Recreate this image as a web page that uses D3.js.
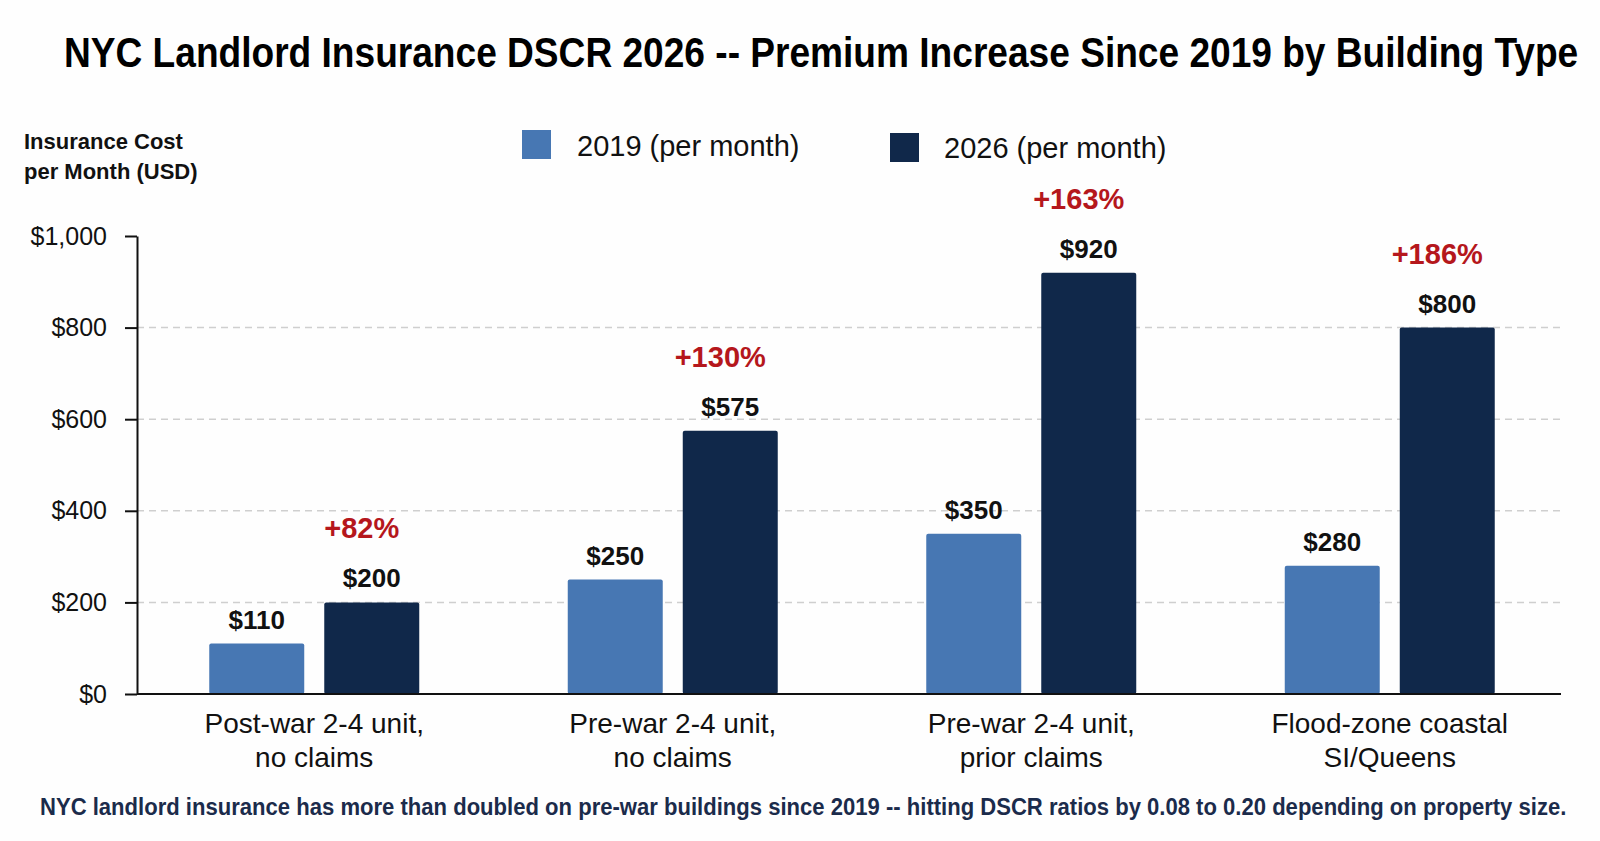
<!DOCTYPE html>
<html lang="en">
    <head>
        <meta charset="utf-8">
        <title>NYC Landlord Insurance DSCR 2026</title>

        <script src="https://d3js.org/d3.v7.min.js"></script>

        <style type="text/css">
            body {
                margin: 0;
                background: #fefefe;
            }
            svg text {
                font-family: "Liberation Sans", Arial, sans-serif;
            }
            .val {
                font-size: 26px;
                font-weight: bold;
                fill: #111;
            }
            .pct {
                font-size: 29px;
                font-weight: bold;
                fill: #b5171c;
            }
        </style>
    </head>
    <body>
        <script type="text/javascript">

            //Data
            const categories = [
                ["Post-war 2-4 unit,", "no claims"],
                ["Pre-war 2-4 unit,", "no claims"],
                ["Pre-war 2-4 unit,", "prior claims"],
                ["Flood-zone coastal", "SI/Queens"]
            ];
            const series = ["2019 (per month)", "2026 (per month)"];
            const values2019 = [110, 250, 350, 280];
            const values2026 = [200, 575, 920, 800];
            const yTicks = [0, 200, 400, 600, 800, 1000];

            //declare consts
            const w = 1600;
            const h = 841;
            const plotLeft = 137, plotRight = 1561;
            const plotTop = 236, plotBottom = 694;
            const colors = ["#4777b3", "#10284a"];

            const svg = d3.select("body")
                    .append("svg")
                    .attr("width", w)
                    .attr("height", h);

            //squeeze a text horizontally so it fits a given width (condensed look)
            function fitText(sel, x, y, width) {
                const natural = sel.node().getComputedTextLength();
                const k = Math.min(1, width / natural);
                sel.attr("x", 0).attr("y", 0)
                   .attr("transform", "translate(" + x + "," + y + ") scale(" + k + ",1)");
            }

            //scales
            const x0 = d3.scaleBand()
                    .domain(d3.range(categories.length))
                    .range([135, 1569]);

            const x1 = d3.scaleBand()
                    .domain(series)
                    .range([-105, 105])
                    .paddingInner(0.174);

            const y = d3.scaleLinear()
                    .domain([0, 1000])
                    .range([plotBottom, plotTop]);

            //title
            const title = svg.append("text")
                .style("font-size", "42px")
                .style("font-weight", "bold")
                .style("fill", "#000")
                .text("NYC Landlord Insurance DSCR 2026 -- Premium Increase Since 2019 by Building Type");
            fitText(title, 64, 67, 1515);

            //y axis title
            svg.append("text")
                .attr("x", 24)
                .attr("y", 149)
                .style("font-size", "22px")
                .style("font-weight", "bold")
                .style("fill", "#111")
                .selectAll("tspan")
                .data(["Insurance Cost", "per Month (USD)"])
                .enter()
                .append("tspan")
                .attr("x", 24)
                .attr("dy", (d, i) => i === 0 ? 0 : 30)
                .text(d => d);

            //legend
            const legendPos = [{x: 522, y: 130, tx: 577, ty: 156}, {x: 890, y: 133, tx: 944, ty: 158}];
            const legend = svg.selectAll("g.legend")
                    .data(series)
                    .enter()
                    .append("g")
                    .attr("class", "legend");

            legend.append("rect")
                .attr("x", (d, i) => legendPos[i].x)
                .attr("y", (d, i) => legendPos[i].y)
                .attr("width", 29)
                .attr("height", 29)
                .attr("fill", (d, i) => colors[i]);

            legend.append("text")
                .attr("x", (d, i) => legendPos[i].tx)
                .attr("y", (d, i) => legendPos[i].ty)
                .style("font-size", "29px")
                .style("fill", "#111")
                .text(d => d);

            //gridlines
            svg.append("g")
                .selectAll("line")
                .data(yTicks.filter(t => t > 0 && t < 1000))
                .enter()
                .append("line")
                .attr("x1", plotLeft)
                .attr("x2", plotRight)
                .attr("y1", d => y(d))
                .attr("y2", d => y(d))
                .attr("stroke", "#cfcfcf")
                .attr("stroke-width", 1.5)
                .attr("stroke-dasharray", "7,5");

            //bars
            const groups = svg.selectAll("g.group")
                    .data(categories.map((c, i) => ({i: i, vals: [values2019[i], values2026[i]]})))
                    .enter()
                    .append("g")
                    .attr("class", "group")
                    .attr("transform", d => "translate(" + (x0(d.i) + x0.bandwidth() / 2) + ",0)");

            groups.selectAll("rect")
                .data(d => d.vals.map((v, j) => ({s: series[j], v: v, j: j})))
                .enter()
                .append("rect")
                .attr("x", d => x1(d.s))
                .attr("y", d => y(d.v))
                .attr("width", x1.bandwidth())
                .attr("height", d => y(0) - y(d.v))
                .attr("rx", 2)
                .attr("fill", d => colors[d.j]);

            groups.selectAll("text.val")
                .data(d => d.vals.map((v, j) => ({s: series[j], v: v})))
                .enter()
                .append("text")
                .attr("class", "val")
                .attr("x", d => x1(d.s) + x1.bandwidth() / 2)
                .attr("y", d => y(d.v) - 15)
                .attr("text-anchor", "middle")
                .text(d => "$" + d3.format(",")(d.v));

            //percent increase labels
            groups.append("text")
                .attr("class", "pct")
                .attr("x", x1(series[1]) + x1.bandwidth() / 2 - 10)
                .attr("y", d => y(d.vals[1]) - 64)
                .attr("text-anchor", "middle")
                .text(d => "+" + Math.round((d.vals[1] / d.vals[0] - 1) * 100) + "%");

            //y axis
            const yAxis = d3.axisLeft(y)
                    .tickValues(yTicks)
                    .tickSize(12)
                    .tickSizeOuter(0)
                    .tickPadding(18)
                    .tickFormat(d => "$" + d3.format(",")(d));

            svg.append("g")
                .attr("transform", "translate(" + plotLeft + ",0)")
                .call(yAxis)
                .call(g => g.selectAll("line, path").attr("stroke", "#111").attr("stroke-width", 2))
                .call(g => g.selectAll("text")
                    .attr("font-family", null)
                    .style("font-size", "25px")
                    .attr("fill", "#111"));

            //x axis line
            svg.append("line")
                .attr("x1", plotLeft)
                .attr("x2", plotRight)
                .attr("y1", y(0))
                .attr("y2", y(0))
                .attr("stroke", "#111")
                .attr("stroke-width", 2);

            //category labels
            svg.append("g")
                .selectAll("text")
                .data(categories)
                .enter()
                .append("text")
                .attr("text-anchor", "middle")
                .attr("y", 733)
                .style("font-size", "28px")
                .style("fill", "#111")
                .each(function(d, i) {
                    const cx = x0(i) + x0.bandwidth() / 2;
                    d3.select(this).selectAll("tspan")
                        .data(d)
                        .enter()
                        .append("tspan")
                        .attr("x", cx)
                        .attr("dy", (t, k) => k === 0 ? 0 : 34)
                        .text(t => t);
                });

            //footnote
            const note = svg.append("text")
                .style("font-size", "24px")
                .style("font-weight", "bold")
                .style("fill", "#1b2b4b")
                .text("NYC landlord insurance has more than doubled on pre-war buildings since 2019 -- hitting DSCR ratios by 0.08 to 0.20 depending on property size.");
            fitText(note, 40, 815, 1527);

        </script>
    </body>
</html>
